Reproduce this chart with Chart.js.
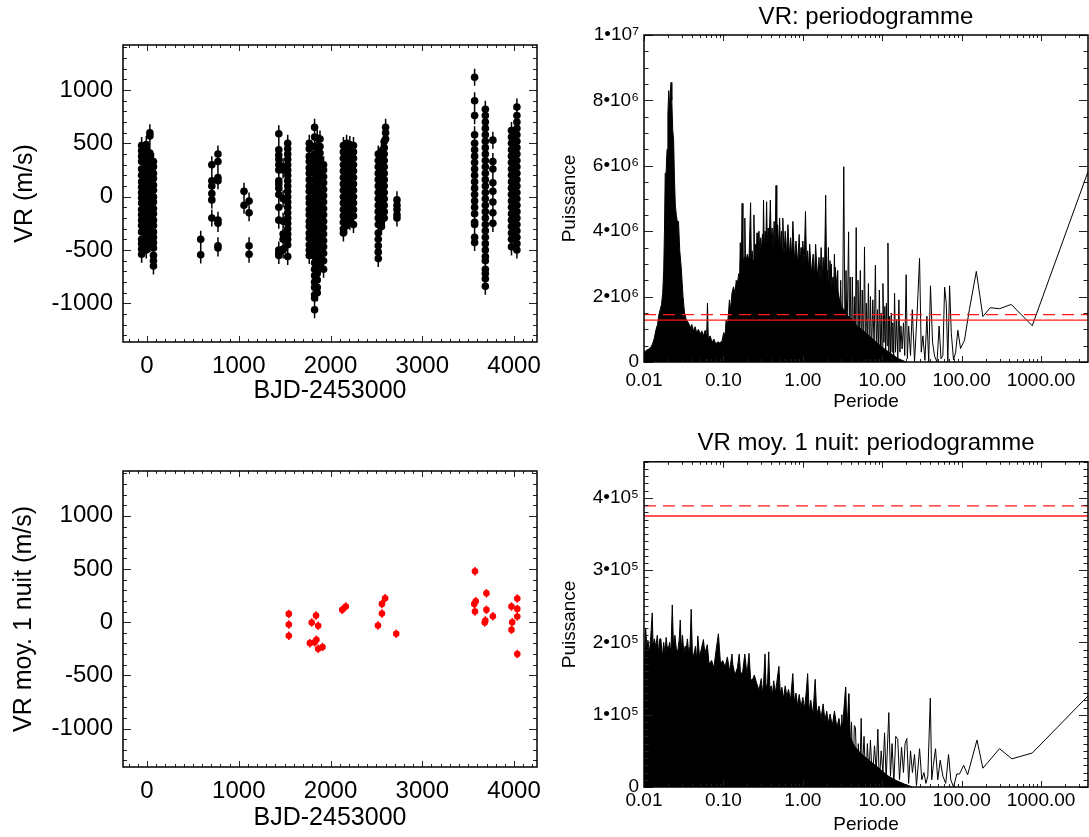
<!DOCTYPE html>
<html>
<head>
<meta charset="utf-8">
<script src="https://cdn.jsdelivr.net/npm/chart.js@4.4.1/dist/chart.umd.min.js"></script>
<style>
  html, body { margin: 0; padding: 0; background: #fff; }
  #wrap { position: relative; width: 1089px; height: 837px; overflow: hidden; }
  canvas { position: absolute; }
</style>
</head>
<body>
<div id="wrap">
  <canvas id="cRV" width="560" height="420" style="left:0;top:0;width:560px;height:420px"></canvas>
  <canvas id="cNight" width="560" height="417" style="left:0;top:420px;width:560px;height:417px"></canvas>
  <canvas id="cPerRV" width="534" height="420" style="left:555px;top:0;width:534px;height:420px"></canvas>
  <canvas id="cPerNight" width="534" height="417" style="left:555px;top:420px;width:534px;height:417px"></canvas>
</div>
<script>
// ============================================================
//  VR + periodogrammes (4 panneaux)
// ============================================================

// --- VR brutes : une colonne de mesures par groupe de nuits (BJD-2453000, m/s)
const rvEpochs = [-59, -8, 31, 70, 585, 706, 773, 1057, 1112, 1436, 1483, 1533,
  1768, 1826, 1855, 1885, 1924, 2140, 2175, 2210, 2250, 2520, 2555, 2585, 2600, 2724,
  3570, 3687, 3769, 3972, 4031];
const rvValues = [
  [480, 430, 380, 330, 260, 200, 140, 90, 40, -10, -60, -120, -170, -220, -270, -330, -400, -440, -490, -540],
  [490, 440, 400, 350, 300, 250, 190, 130, 80, 20, -30, -90, -140, -200, -250, -310, -360, -410, -460, -500],
  [600, 570, 410, 370, 320, 270, 210, 160, 100, 50, 0, -60, -110, -170, -230, -280, -340, -390, -440],
  [330, 280, 220, 170, 110, 60, 0, -50, -110, -160, -220, -270, -330, -380, -430, -480, -550, -600, -650],
  [-400, -545],
  [300, 150, 100, 30, -30, -200],
  [400, 330, 180, 150, -220, -250, -460, -480],
  [50, -80],
  [-40, -150, -460, -540],
  [590, 440, 390, 350, 300, 250, 150, 120, 80, 20, -100, -220, -500, -530, -550],
  [280, 250, -20, -230, -350, -400, -490, -500],
  [500, 450, 400, 350, 300, 250, 200, 150, 100, 50, 0, -50, -100, -150, -200, -250, -300, -350, -400, -450, -560],
  [500, 450, 380, 330, 270, 220, 160, 100, 50, -10, -60, -120, -170, -230, -280, -340, -390, -450, -500, -550],
  [650, 560, 470, 400, 340, 280, 220, 160, 100, 40, -20, -80, -140, -200, -260, -320, -380, -440, -500, -560, -620, -680, -740, -800, -850, -920, -950, -1060],
  [550, 480, 420, 360, 300, 240, 180, 120, 60, 0, -60, -120, -180, -240, -300, -360, -420, -480, -540, -600, -660, -720, -780, -850, -900],
  [540, 470, 410, 350, 290, 230, 170, 110, 50, -10, -70, -130, -190, -250, -310, -370, -430, -490, -550, -640],
  [300, 250, 190, 130, 70, 10, -50, -110, -170, -230, -290, -350, -410, -470, -530, -600, -680],
  [480, 420, 360, 300, 240, 180, 120, 60, 0, -60, -120, -180, -240, -300, -340],
  [500, 440, 380, 320, 260, 200, 140, 80, 20, -40, -100, -160, -220, -270],
  [490, 430, 370, 310, 250, 190, 130, 70, 10, -50, -110, -170, -230],
  [480, 420, 360, 300, 240, 180, 120, 60, 0, -60, -120, -180, -260],
  [400, 340, 280, 220, 160, 100, 40, -20, -80, -140, -200, -260, -340, -400, -460, -520, -580],
  [430, 370, 310, 250, 190, 130, 70, 10, -50, -110, -170, -230, -280],
  [520, 460, 400, 340, 280, 220, 160, 100, 40, -20, -80, -140, -200],
  [650, 600, 540],
  [-30, -80, -120, -170, -200],
  [1120, 900, 760, 580, 500, 440, 380, 320, 260, 200, 140, 80, 20, -40, -100, -160, -240, -260, -380, -430],
  [820, 760, 700, 640, 580, 520, 460, 400, 340, 280, 220, 160, 100, 40, -20, -80, -140, -200, -260, -320, -380, -440, -500, -560, -600, -680, -720, -770, -840],
  [530, 330, 260, 130, 50, -50, -150, -250],
  [620, 560, 500, 440, 380, 320, 260, 200, 140, 80, 20, -40, -100, -160, -220, -280, -340, -400, -470],
  [840, 760, 700, 640, 580, 520, 460, 400, 340, 280, 220, 160, 100, 40, -20, -80, -140, -200, -260, -320, -380, -440, -500]
];
const rvErr = 80;

// --- VR moyennees par nuit
const nightEpochs = [1545, 1545, 1545, 1775, 1795, 1826, 1846, 1842, 1865, 1865, 1912,
  2127, 2166, 2517, 2560, 2560, 2595, 2716, 3574, 3582, 3566, 3574, 3699, 3699, 3687, 3680,
  3769, 3972, 3980, 3972, 4035, 4035, 4035, 4035];
const nightValues = [78, -22, -128, -197, -3, -188, -166, 63, -34, -250, -234,
  116, 147, -31, 172, 81, 225, -109, 478, 197, 172, 100, 272, 116, 16, -3,
  56, 147, 0, -72, 222, 125, 53, -300];
const nightErr = 40;

// --- axes (ticks)
const bjdTicks = [0, 1000, 2000, 3000, 4000];
const rvTicks = [-1000, -500, 0, 500, 1000];
const periodTicks = [0.01, 0.1, 1, 10, 100, 1000];
const powRVTicks = [0, 2, 4, 6, 8, 10];      // x 10^6
const powNightTicks = [0, 1, 2, 3, 4];       // x 10^5

// --- periodogramme VR (puissance en 10^6) : partie dense remplie
const vrDenseP = [
  0.0100, 0.0108, 0.0115, 0.0122, 0.0128, 0.0134, 0.0141, 0.0148, 0.0155, 0.0160,
  0.0166, 0.0172, 0.0177, 0.0181, 0.0185, 0.0190, 0.0195, 0.0200, 0.0205, 0.0210,
  0.0214, 0.0219, 0.0224, 0.0230, 0.0236, 0.0242, 0.0248, 0.0255, 0.0262, 0.0272,
  0.0282, 0.0294, 0.0310, 0.0324, 0.0340, 0.0356, 0.0370, 0.0385, 0.0400, 0.0420,
  0.0440, 0.0460, 0.0485, 0.0510, 0.0535, 0.0560, 0.0590, 0.0615, 0.0630, 0.0645,
  0.0680, 0.0720, 0.0760, 0.0800, 0.0849, 0.0900, 0.0960, 0.1010, 0.1050, 0.1080,
  0.1120, 0.1160, 0.1190, 0.1230, 0.1280, 0.1340, 0.1400, 0.1450, 0.1500, 0.1560,
  0.1600, 0.1630, 0.1680, 0.1720, 0.1760, 0.1820, 0.1860, 0.1900, 0.2000, 0.2100,
  0.2200, 0.2250, 0.2300, 0.2360, 0.2420, 0.2470, 0.2520, 0.2580, 0.2650, 0.2720,
  0.2800, 0.2880, 0.2950, 0.3030, 0.3100, 0.3150, 0.3200, 0.3270, 0.3350, 0.3420,
  0.3500, 0.3580, 0.3650, 0.3750, 0.3900, 0.4000, 0.4100, 0.4230, 0.4350, 0.4480,
  0.4600, 0.4700, 0.4800, 0.4950, 0.5100, 0.5250, 0.5400, 0.5500, 0.5600, 0.5800,
  0.6000, 0.6250, 0.6500, 0.6750, 0.7000, 0.7250, 0.7500, 0.7850, 0.8200, 0.8600,
  0.9000, 0.9250, 0.9500, 0.9750, 1.0000, 1.0400, 1.0800, 1.1150, 1.1500, 1.1850,
  1.2200, 1.2800, 1.3500, 1.4000, 1.4500, 1.5200, 1.6000, 1.6500, 1.7000, 1.7500,
  1.8000, 1.8700, 1.9400, 2.0000, 2.0500, 2.1200, 2.2000,
  2.2800, 2.4000, 2.5000, 2.5500, 2.7000, 2.9000, 3.0500, 3.3000, 3.7000, 4.2000,
  4.8000, 5.5000, 6.5000, 8.0000, 10.000, 13.000, 16.000, 20.000];
const vrDensePow = [
  0.30, 0.36, 0.40, 0.45, 0.55, 0.70, 0.97, 1.15, 1.48, 1.60,
  1.75, 2.10, 2.80, 4.00, 5.77, 5.80, 6.50, 7.60, 8.30, 7.80,
  8.20, 8.55, 8.00, 7.10, 6.80, 5.60, 4.80, 4.50, 4.30, 4.30,
  3.40, 2.90, 2.00, 1.50, 1.30, 1.23, 1.15, 1.05, 1.15, 0.95,
  1.08, 0.90, 1.00, 0.85, 0.95, 0.80, 0.97, 0.75, 1.80, 0.70,
  0.80, 0.60, 0.70, 0.55, 0.62, 0.58, 0.65, 0.90, 0.80, 1.28,
  1.10, 1.50, 1.90, 1.60, 2.10, 2.30, 2.10, 2.50, 2.40, 2.70,
  2.60, 3.65, 3.00, 4.85, 2.90, 3.20, 4.40, 3.00, 3.30, 3.10,
  4.87, 3.00, 3.40, 3.10, 4.50, 3.20, 3.60, 3.20, 3.95, 3.30,
  4.00, 3.30, 3.80, 3.40, 3.90, 3.40, 4.95, 3.40, 4.00, 3.50,
  4.90, 3.50, 4.10, 3.50, 4.95, 3.60, 4.10, 3.50, 4.30, 3.60,
  5.40, 3.60, 4.20, 3.50, 4.40, 3.40, 4.00, 3.40, 4.40, 3.30,
  4.00, 3.30, 4.20, 3.20, 3.80, 3.20, 4.30, 3.10, 3.70, 3.00,
  3.90, 3.00, 3.50, 2.90, 3.70, 3.00, 4.60, 2.90, 3.40, 2.80,
  3.60, 2.70, 3.30, 2.60, 3.60, 2.60, 3.20, 2.50, 3.50, 2.50,
  3.20, 2.60, 5.10, 2.40, 2.80, 2.30, 3.10,
  2.20, 2.60, 2.00, 2.90, 2.30, 1.90, 1.70, 1.60, 1.40, 1.30,
  1.10, 1.00, 0.85, 0.65, 0.45, 0.25, 0.10, 0.00];
// partie clairsemee (longues periodes)
const vrSparseP = [
  2.00, 2.10, 2.18, 2.28, 2.40, 2.50, 2.62, 2.75, 2.88, 3.00,
  3.14, 3.28, 3.40, 3.50, 3.60, 3.77, 3.86, 3.95, 4.08, 4.20,
  4.33, 4.45, 4.58, 4.70, 4.82, 4.95, 5.12, 5.30, 5.45, 5.60,
  5.80, 5.98, 6.15, 6.30, 6.50, 6.70, 6.90, 7.10, 7.35, 7.60,
  7.90, 8.20, 8.45, 8.70, 8.95, 9.20, 9.45, 9.70, 9.95, 10.2,
  10.5, 10.8, 11.05, 11.3, 11.55, 11.8, 12.1, 12.4, 12.7, 13.0,
  13.3, 13.6, 13.95, 14.3, 14.7, 15.2, 15.7, 16.2, 16.7, 17.2,
  17.8, 18.5, 19.2, 20.0, 20.7, 21.5, 22.7, 23.9, 25.5, 27.5,
  29.5, 31.0, 32.5, 34.5, 36.5, 38.5, 40.5, 43.0, 45.6, 49.0,
  52.0, 55.0, 58.0, 61.0, 64.0, 67.0, 70.5, 74.0, 79.0, 84.0,
  89.6, 96.8, 108.7, 125, 153, 185, 229, 300, 421, 774,
  3900];
const vrSparsePow = [
  1.2, 3.5, 0.8, 3.0, 1.0, 3.3, 0.6, 2.8, 0.4, 2.5,
  0.3, 5.97, 0.5, 2.8, 0.6, 3.98, 0.8, 2.6, 0.3, 2.6,
  0.5, 2.0, 0.2, 4.11, 0.4, 2.5, 0.6, 2.8, 0.1, 2.2,
  0.3, 3.52, 0.2, 1.8, 0.5, 2.4, 0.2, 2.0, 0.3, 1.9,
  0.5, 2.96, 0.3, 1.6, 0.2, 2.2, 0.4, 1.5, 0.1, 2.4,
  0.6, 1.7, 0.2, 1.8, 0.5, 3.64, 0.3, 1.4, 0.2, 1.5,
  0.3, 1.2, 0.1, 2.1, 0.3, 1.3, 0.1, 1.9, 0.3, 1.1,
  0.4, 1.2, 0.2, 2.67, 0.1, 1.1, 0.2, 1.6, 0.0, 1.5,
  3.17, 0.3, 0.8, 0.05, 1.4, 0.0, 2.33, 0.6, 0.18, 0.0,
  1.1, 0.1, 0.2, 2.29, 1.8, 0.0, 2.33, 0.9, 0.06, 0.3,
  0.97, 0.41, 0.67, 1.6, 2.77, 1.39, 1.66, 1.63, 1.76, 1.11,
  5.82];
const vrLevels = [1.45, 1.28];   // seuils (tirets, plein)

// --- periodogramme VR moy. 1 nuit (puissance en 10^5)
const nightDenseP = [
  0.0100, 0.0105, 0.0109, 0.0112, 0.0117, 0.0122, 0.0127, 0.0130, 0.0135, 0.0141,
  0.0147, 0.0153, 0.0158, 0.0163, 0.0170, 0.0177, 0.0184, 0.0190, 0.0195, 0.0202,
  0.0210, 0.0218, 0.0227, 0.0235, 0.0245, 0.0256, 0.0267, 0.0278, 0.0286, 0.0295,
  0.0305, 0.0318, 0.0330, 0.0340, 0.0352, 0.0366, 0.0380, 0.0393, 0.0408, 0.0425,
  0.0445, 0.0462, 0.0476, 0.0500, 0.0525, 0.0560, 0.0584, 0.0627, 0.0660, 0.0710,
  0.0760, 0.0810, 0.0865, 0.0920, 0.0980, 0.1050, 0.1120, 0.1200, 0.1280, 0.1310,
  0.1400, 0.1500, 0.1580, 0.1650, 0.1750, 0.1860, 0.1980, 0.2100, 0.2200, 0.2300,
  0.2450, 0.2600, 0.2800, 0.3000, 0.3100, 0.3200, 0.3340, 0.3450, 0.3600, 0.3720,
  0.3850, 0.4000, 0.4150, 0.4300, 0.4500, 0.4700, 0.5000, 0.5200, 0.5450, 0.5700,
  0.6000, 0.6300, 0.6600, 0.7000, 0.7480, 0.7800, 0.8200, 0.8600, 0.9000, 0.9500,
  1.0000, 1.0500, 1.1000, 1.1500, 1.2000, 1.2600, 1.3400, 1.4300, 1.5000, 1.6000,
  1.7000, 1.8000, 1.9000, 2.0000, 2.1000, 2.2000, 2.3500, 2.5000, 2.6900, 2.8500,
  3.0000, 3.2000, 3.4600, 3.6000, 3.7900, 3.9500, 4.2000, 4.6000, 5.2000, 6.0000,
  7.0000, 8.2000, 10.000, 12.000, 15.000, 19.000, 24.000];
const nightDensePow = [
  1.57, 2.20, 1.90, 2.03, 1.85, 2.10, 2.41, 1.95, 2.05, 1.94,
  2.10, 1.85, 2.05, 2.05, 1.80, 2.00, 1.85, 2.07, 1.95, 1.90,
  2.00, 1.85, 2.52, 1.95, 2.10, 1.90, 1.89, 2.05, 2.31, 1.90,
  2.10, 1.85, 1.95, 1.89, 2.05, 1.85, 1.95, 2.46, 1.80, 1.84,
  1.95, 1.75, 2.09, 1.80, 1.90, 2.04, 1.85, 1.97, 1.70, 1.75,
  1.65, 1.90, 2.12, 1.70, 1.75, 1.66, 1.80, 1.60, 1.84, 1.70,
  1.55, 1.65, 1.84, 1.55, 1.60, 1.84, 1.55, 1.85, 1.50, 1.47,
  1.55, 1.45, 1.34, 1.50, 1.30, 1.42, 1.84, 1.35, 1.45, 1.87,
  1.35, 1.40, 1.28, 1.47, 1.30, 1.45, 1.67, 1.30, 1.38, 1.22,
  1.40, 1.25, 1.35, 1.20, 1.57, 1.18, 1.30, 1.12, 1.28, 1.10,
  1.24, 1.08, 1.30, 1.57, 1.05, 1.20, 1.00, 1.49, 1.00, 1.12,
  0.95, 1.15, 0.92, 1.05, 0.88, 1.01, 0.85, 1.05, 0.82, 0.95,
  0.80, 0.90, 1.38, 0.75, 1.29, 0.70, 0.62, 0.55, 0.48, 0.42,
  0.36, 0.30, 0.22, 0.15, 0.09, 0.04, 0.00];
const nightSparseP = [3.0, 3.1, 3.2, 3.35, 3.46, 3.6, 3.79, 3.95, 4.1, 4.3, 4.45,
  4.6, 4.8, 5.0, 5.2, 5.43, 5.6, 5.9, 6.2, 6.5, 6.8,
  7.1, 7.5, 8.0, 8.4, 8.8, 9.2, 9.7, 10.2, 10.7, 11.2,
  12.1, 12.7, 13.3, 14.0, 14.8, 15.7, 16.5, 17.5, 18.5, 19.4,
  20.4, 21.5, 22.7, 24.0, 25.5, 27.0, 29.5, 31.5, 33.5, 35.5,
  37.5, 40.3, 42, 44, 46.9, 50, 53.7, 58, 63, 68.4,
  73, 79, 87, 94, 106, 119, 156, 185, 300, 429, 774, 3900];
const nightSparsePow = [0.30, 1.00, 0.20, 0.90, 1.38, 0.10, 1.29, 0.30, 0.90, 0.10, 0.85,
  0.82, 0.10, 0.60, 0.05, 0.95, 0.20, 0.70, 0.05, 0.60, 0.15,
  0.65, 0.10, 0.57, 0.20, 0.80, 0.05, 0.50, 0.20, 0.75, 0.10,
  1.03, 0.15, 0.60, 0.05, 0.70, 0.66, 0.10, 0.55, 0.20, 0.60,
  0.67, 0.05, 0.50, 0.20, 0.45, 0.02, 0.53, 0.10, 0.20, 0.05,
  0.15, 1.23, 0.10, 0.30, 0.53, 0.10, 0.37, 0.15, 0.05, 0.45,
  0.10, 0.00, 0.18, 0.18, 0.30, 0.17, 0.65, 0.26, 0.53, 0.39, 0.47, 1.26];
const nightLevels = [3.89, 3.75];

// ------------------------------------------------------------
const FONT = '"Liberation Sans", Arial, Helvetica, sans-serif';
Chart.defaults.font.family = FONT;
Chart.defaults.color = '#000';

const zip = (xs, ys) => xs.map((x, i) => ({ x, y: ys[i] }));
const range = (a, b, s) => { const r = []; for (let v = a; v <= b + 1e-9; v += s) r.push(+v.toFixed(6)); return r; };
const logMinor = (max) => {
  const r = [];
  [0.01, 0.1, 1, 10, 100, 1000].forEach(d => { for (let k = 2; k <= 9; k++) if (d * k <= max) r.push(d * k); });
  return r;
};

// cadre + graduations internes sur les 4 cotes (style IDL)
const FRAMES = {
  cRV:      { xMaj: bjdTicks, xMin: range(-200, 4200, 100), yMaj: rvTicks, yMin: range(-1300, 1400, 100), xl: 6, yl: 8 },
  cNight:   { xMaj: bjdTicks, xMin: range(-200, 4200, 100), yMaj: rvTicks, yMin: range(-1300, 1400, 100), xl: 6, yl: 8 },
  cPerRV:   { xMaj: periodTicks, xMin: logMinor(3900), yMaj: powRVTicks, yMin: range(0, 10, 0.5), xl: 6, yl: 9 },
  cPerNight:{ xMaj: periodTicks, xMin: logMinor(3900), yMaj: powNightTicks, yMin: range(0, 4.5, 0.1), xl: 6, yl: 9 }
};
const framePlugin = {
  id: 'frame',
  afterDatasetsDraw(chart) {
    const f = FRAMES[chart.canvas.id];
    const { ctx, chartArea: a } = chart;
    const xs = chart.scales.x, ys = chart.scales.y;
    const inX = v => v >= xs.min && v <= xs.max, inY = v => v >= ys.min && v <= ys.max;
    ctx.save();
    ctx.strokeStyle = '#222';
    ctx.lineWidth = 1;
    ctx.beginPath();
    const tx = (v, len) => {
      const p = Math.round(xs.getPixelForValue(v)) + 0.5;
      ctx.moveTo(p, a.bottom); ctx.lineTo(p, a.bottom - len);
      ctx.moveTo(p, a.top); ctx.lineTo(p, a.top + len);
    };
    const ty = (v, len) => {
      const p = Math.round(ys.getPixelForValue(v)) + 0.5;
      ctx.moveTo(a.left, p); ctx.lineTo(a.left + len, p);
      ctx.moveTo(a.right, p); ctx.lineTo(a.right - len, p);
    };
    f.xMaj.filter(inX).forEach(v => tx(v, f.xl));
    f.xMin.filter(inX).forEach(v => tx(v, f.xl / 2));
    f.yMaj.filter(inY).forEach(v => ty(v, f.yl));
    f.yMin.filter(inY).forEach(v => ty(v, f.yl / 2));
    ctx.stroke();
    ctx.strokeStyle = '#000';
    ctx.lineWidth = 1.5;
    ctx.strokeRect(a.left, a.top, a.right - a.left, a.bottom - a.top);
    ctx.restore();
  }
};

// barres d'erreur verticales (dessinees sous les points)
const errorBars = {
  id: 'errorBars',
  beforeDatasetsDraw(chart) {
    const { ctx } = chart;
    const ys = chart.scales.y;
    ctx.save();
    chart.data.datasets.forEach((ds, i) => {
      if (!ds.errY) return;
      ctx.strokeStyle = ds.backgroundColor;
      ctx.lineWidth = 1.5;
      ctx.beginPath();
      chart.getDatasetMeta(i).data.forEach((pt, j) => {
        const v = ds.data[j].y;
        ctx.moveTo(pt.x, ys.getPixelForValue(v + ds.errY));
        ctx.lineTo(pt.x, ys.getPixelForValue(v - ds.errY));
      });
      ctx.stroke();
    });
    ctx.restore();
  }
};

function rvChart(id, ytitle, points, color, radius, err, padTop, axisH, titlePad, ytPad) {
  return new Chart(document.getElementById(id), {
    type: 'scatter',
    data: { datasets: [{ data: points, backgroundColor: color, borderColor: color, borderWidth: 0, pointRadius: radius, errY: err }] },
    options: {
      responsive: false, animation: false, events: [],
      layout: { padding: { top: padTop, right: 23, left: 0, bottom: 0 } },
      plugins: { legend: { display: false }, tooltip: { enabled: false } },
      scales: {
        x: {
          type: 'linear', min: -262, max: 4250,
          grid: { display: false, drawTicks: false }, border: { display: false },
          afterBuildTicks: s => { s.ticks = bjdTicks.map(v => ({ value: v })); },
          afterFit: s => { s.height = axisH; },
          ticks: { padding: 10, font: { size: 24 }, maxRotation: 0, autoSkip: false, callback: v => String(v) },
          title: { display: true, text: 'BJD-2453000', font: { size: 25 }, padding: { top: 0, bottom: titlePad } }
        },
        y: {
          min: -1362, max: 1422,
          grid: { display: false, drawTicks: false }, border: { display: false },
          afterBuildTicks: s => { s.ticks = rvTicks.map(v => ({ value: v })); },
          afterFit: s => { s.width = 123; },
          ticks: { padding: 10, font: { size: 24 }, autoSkip: false, callback: v => String(v) },
          title: { display: true, text: ytitle, font: { size: 25 }, padding: { top: ytPad, bottom: 0 } }
        }
      }
    },
    plugins: [errorBars, framePlugin]
  });
}

function perChart(id, title, dense, sparse, levels, ymax, yTicks, yLabel, layout) {
  return new Chart(document.getElementById(id), {
    type: 'line',
    data: {
      datasets: [
        { data: [{ x: 0.01, y: levels[0] }, { x: 3900, y: levels[0] }], borderColor: '#ff1a1a', borderWidth: 1.4, borderDash: [12, 7], pointRadius: 0, fill: false, order: 0 },
        { data: [{ x: 0.01, y: levels[1] }, { x: 3900, y: levels[1] }], borderColor: '#ff1a1a', borderWidth: 1.4, pointRadius: 0, fill: false, order: 0 },
        { data: sparse, borderColor: '#000', borderWidth: 1, pointRadius: 0, tension: 0, fill: false, order: 1 },
        { data: dense, borderColor: '#000', backgroundColor: '#000', borderWidth: 1, pointRadius: 0, tension: 0, fill: 'origin', order: 2 }
      ]
    },
    options: {
      responsive: false, animation: false, events: [],
      layout: { padding: { top: 0, right: 1, left: 0, bottom: 0 } },
      plugins: {
        legend: { display: false }, tooltip: { enabled: false },
        title: { display: true, text: title, fullSize: false, font: { size: 24, weight: 'normal' }, color: '#000', padding: { top: layout.tTop, bottom: layout.tBot } }
      },
      scales: {
        x: {
          type: 'logarithmic', min: 0.01, max: 3900,
          grid: { display: false, drawTicks: false }, border: { display: false },
          afterBuildTicks: s => { s.ticks = periodTicks.map(v => ({ value: v })); },
          afterFit: s => { s.height = layout.axisH; },
          ticks: { padding: layout.xPad, font: { size: 19 }, maxRotation: 0, autoSkip: false, callback: v => Number(v).toFixed(2) },
          title: { display: true, text: 'Periode', font: { size: 19 }, padding: { top: 0, bottom: layout.xtBot } }
        },
        y: {
          min: 0, max: ymax,
          grid: { display: false, drawTicks: false }, border: { display: false },
          afterBuildTicks: s => { s.ticks = yTicks.map(v => ({ value: v })); },
          afterFit: s => { s.width = 89; },
          ticks: { padding: 5, font: { size: 19 }, autoSkip: false, callback: yLabel },
          title: { display: true, text: 'Puissance', font: { size: 19 }, padding: { top: 3.6, bottom: 0 } }
        }
      }
    },
    plugins: [framePlugin]
  });
}

// ===== panneaux de gauche : VR
const rvPoints = rvEpochs.flatMap((t, i) => rvValues[i].map(v => ({ x: t, y: v })));
rvChart('cRV', 'VR (m/s)', rvPoints, '#000', 3.8, rvErr, 45, 78, 14, 10);
rvChart('cNight', 'VR moy. 1 nuit (m/s)', zip(nightEpochs, nightValues), '#ff0000', 3.3, nightErr, 51, 70, 4, 9);

// ===== panneaux de droite : periodogrammes
perChart('cPerRV', 'VR: periodogramme',
  zip(vrDenseP, vrDensePow), zip(vrSparseP, vrSparsePow), vrLevels, 10, powRVTicks,
  v => v === 0 ? '0' : (v === 10 ? '1\u202210\u2077' : v + '\u202210\u2076'),
  { tTop: 3, tBot: 3.2, axisH: 58, xPad: 7, xtBot: 7 });
perChart('cPerNight', 'VR moy. 1 nuit: periodogramme',
  zip(nightDenseP, nightDensePow), zip(nightSparseP, nightSparsePow), nightLevels, 4.5, powNightTicks,
  v => v === 0 ? '0' : v + '\u202210\u2075',
  { tTop: 9, tBot: 4, axisH: 50, xPad: 2, xtBot: 1 });
</script>
</body>
</html>
